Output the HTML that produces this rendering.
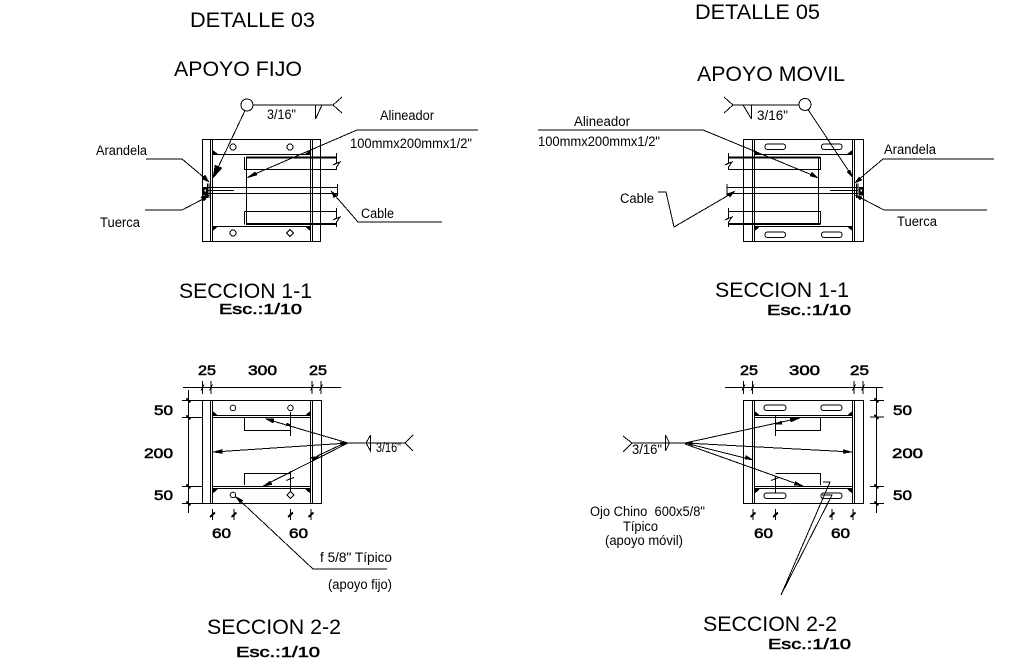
<!DOCTYPE html>
<html lang="es">
<head>
<meta charset="utf-8">
<title>Detalle 03 y Detalle 05</title>
<style>
html,body{margin:0;padding:0;background:#fff;width:1009px;height:666px;overflow:hidden}
svg{display:block}
text{font-family:"Liberation Sans",sans-serif;fill:#000;stroke:none}
.t{font-size:21.5px}
.l{font-size:13.5px}
.d{font-size:14px;stroke:#000;stroke-width:.55px}
.e{font-size:14.5px;stroke:#000;stroke-width:.55px}
.s{fill:none;stroke:#000;stroke-width:1}
.m{fill:none;stroke:#000;stroke-width:1}
.h{fill:none;stroke:#000;stroke-width:2}
.f{fill:#000;stroke:#000;stroke-width:.5}
.g{shape-rendering:crispEdges}
</style>
</head>
<body>
<svg width="1009" height="666" viewBox="0 0 1009 666" xmlns="http://www.w3.org/2000/svg">
<rect width="1009" height="666" fill="#fff"/>

<!-- titles -->
<text class="t" x="190" y="27" textLength="125" lengthAdjust="spacingAndGlyphs">DETALLE 03</text>
<text class="t" x="174" y="76" textLength="128" lengthAdjust="spacingAndGlyphs">APOYO FIJO</text>
<text class="t" x="695" y="19" textLength="125" lengthAdjust="spacingAndGlyphs">DETALLE 05</text>
<text class="t" x="697" y="81" textLength="148" lengthAdjust="spacingAndGlyphs">APOYO MOVIL</text>
<text class="t" x="179" y="298" textLength="133" lengthAdjust="spacingAndGlyphs">SECCION 1-1</text>
<text class="e" x="219" y="314" textLength="83" lengthAdjust="spacingAndGlyphs">Esc.:1/10</text>
<text class="t" x="715" y="297" textLength="134" lengthAdjust="spacingAndGlyphs">SECCION 1-1</text>
<text class="e" x="767" y="315" textLength="84" lengthAdjust="spacingAndGlyphs">Esc.:1/10</text>
<text class="t" x="207" y="634" textLength="134" lengthAdjust="spacingAndGlyphs">SECCION 2-2</text>
<text class="e" x="236" y="657" textLength="84" lengthAdjust="spacingAndGlyphs">Esc.:1/10</text>
<text class="t" x="703" y="631" textLength="134" lengthAdjust="spacingAndGlyphs">SECCION 2-2</text>
<text class="e" x="768" y="649" textLength="83" lengthAdjust="spacingAndGlyphs">Esc.:1/10</text>

<!-- ============ LEFT SECTION 1-1 ============ -->
<g class="g">
<rect class="m" x="202.500" y="139.500" width="118" height="102"/>
<path class="s" d="M210.500 139.500V241.500M212.500 139.500V241.500M310.500 139.500V241.500M312.500 139.500V241.500"/>
<path class="s" d="M212.500 154.500H310.500M212.500 226.500H310.500"/>
<path class="h" d="M246 157.500H337M246 224H337"/>
<path class="s" d="M244.500 157V169.500H337M244.500 211.500V224.500M244.500 211.500H337M246.500 157V224"/>
<path class="s" d="M208 187.500H338M208 193.500H338M208 190.500H234M337.500 184V196"/>
<path class="s" d="M336.500 153V163L333 165 340 162 336.500 167V170M336.500 208V218L333 220 340 217 336.500 222V227"/>
<circle class="s" cx="233" cy="147" r="3"/><circle class="s" cx="290" cy="147" r="3"/>
<circle class="s" cx="233" cy="233" r="3"/><path class="s" d="M290 229.500L293.500 233 290 236.500 286.500 233Z"/>
<path class="f" d="M213 150.500V154H217.500ZM310 150.500V154H305.500ZM213 230.500V226.500H217.500ZM310 230.500V226.500H305.500Z"/>
<rect class="f" x="203" y="187" width="4" height="8"/>
<rect x="204.500" y="189.500" width="1.500" height="2" fill="#fff"/>
<path class="s" d="M207.500 183.500V198M209 183.500V198"/>
<!-- weld -->
<circle class="s" cx="247" cy="105" r="6"/>
<path class="s" d="M253 105H333L342 97M333 105L342 113M315.500 119V105M315.500 119L322 105"/>
<path class="s" d="M245 110.500L214 176"/>
<path class="f" d="M213 178L215 165 222 168Z"/>
<!-- leaders -->
<path class="s" d="M478 130H357L248 177"/>
<path class="f" d="M247 178L255 172 257 175Z"/>
<path class="s" d="M146 159H182L207 180"/>
<path class="f" d="M209 182L202 179 205 175Z"/>
<path class="s" d="M145 210H182L207 197"/>
<path class="f" d="M209 195L204 201 201 197Z"/>
<path class="s" d="M442 222H358L332 192"/>
<path class="f" d="M331 191L337 195 334 198Z"/>
</g>
<text class="l" x="267" y="119" textLength="29" lengthAdjust="spacingAndGlyphs">3/16"</text>
<text class="l" x="380" y="120" textLength="54" lengthAdjust="spacingAndGlyphs">Alineador</text>
<text class="l" x="350" y="148" textLength="122" lengthAdjust="spacingAndGlyphs">100mmx200mmx1/2"</text>
<text class="l" x="96" y="155" textLength="51" lengthAdjust="spacingAndGlyphs">Arandela</text>
<text class="l" x="100" y="227" textLength="40" lengthAdjust="spacingAndGlyphs">Tuerca</text>
<text class="l" x="361" y="218" textLength="33" lengthAdjust="spacingAndGlyphs">Cable</text>

<!-- ============ RIGHT SECTION 1-1 ============ -->
<g class="g">
<rect class="m" x="743.500" y="139.500" width="120" height="102"/>
<path class="s" d="M752.500 139.500V241.500M754.500 139.500V241.500M852.500 139.500V241.500M854.500 139.500V241.500"/>
<path class="s" d="M754.500 154.500H852.500M754.500 226.500H852.500"/>
<path class="h" d="M728 157.500H820M728 224H820"/>
<path class="s" d="M728 169.500H820.500V157M728 211.500H820.500V224.500M818.500 157V224"/>
<path class="s" d="M727 187.500H858M727 193.500H858M830 190.500H858M727 184V196"/>
<path class="s" d="M728.500 153V163L725 165 732 162 728.500 167V170M728.500 208V218L725 220 732 217 728.500 222V227"/>
<rect class="s" x="765" y="144" width="20.500" height="5.500" rx="2.700"/>
<rect class="s" x="821.500" y="144" width="20.500" height="5.500" rx="2.700"/>
<rect class="s" x="765" y="232" width="20.500" height="5.500" rx="2.700"/>
<rect class="s" x="821.500" y="232" width="20.500" height="5.500" rx="2.700"/>
<path class="f" d="M755 150.500V154H759.500ZM852 150.500V154H847.500ZM755 230.500V226.500H759.500ZM852 230.500V226.500H847.500Z"/>
<rect class="f" x="859" y="187" width="4" height="8"/>
<rect x="860.500" y="189.500" width="1.500" height="2" fill="#fff"/>
<path class="s" d="M856.500 183.500V198M858 183.500V198"/>
<!-- weld -->
<circle class="s" cx="805" cy="104.500" r="6"/>
<path class="s" d="M799 105H733L724 97M733 105L724 113M751.500 119V105M751.500 119L743 105"/>
<path class="s" d="M808 109.500L852 176"/>
<path class="f" d="M853 178L847 172 850 170Z"/>
<!-- leaders -->
<path class="s" d="M538 130H703L817 177"/>
<path class="f" d="M818 178L810 176 812 172Z"/>
<path class="s" d="M994 159H883L857 181"/>
<path class="f" d="M855 183L859 177 862 180Z"/>
<path class="s" d="M987 210H884L857 196"/>
<path class="f" d="M855 195L862 197 860 200Z"/>
<path class="s" d="M658 192H666L674 227 734 192"/>
<path class="f" d="M735 191L730 197 727 194Z"/>
</g>
<text class="l" x="757" y="120" textLength="31" lengthAdjust="spacingAndGlyphs">3/16"</text>
<text class="l" x="574" y="126" textLength="56" lengthAdjust="spacingAndGlyphs">Alineador</text>
<text class="l" x="538" y="146" textLength="122" lengthAdjust="spacingAndGlyphs">100mmx200mmx1/2"</text>
<text class="l" x="884" y="154" textLength="52" lengthAdjust="spacingAndGlyphs">Arandela</text>
<text class="l" x="897" y="226" textLength="40" lengthAdjust="spacingAndGlyphs">Tuerca</text>
<text class="l" x="620" y="203" textLength="34" lengthAdjust="spacingAndGlyphs">Cable</text>

<!-- ============ LEFT SECTION 2-2 ============ -->
<g class="g">
<rect class="m" x="202.500" y="400.500" width="119" height="103"/>
<path class="s" d="M210.500 400.500V503.500M212.500 400.500V503.500M310.500 400.500V503.500M312.500 400.500V503.500"/>
<path class="s" d="M212.500 415.500H310.500M212.500 417.500H310.500M212.500 486.500H310.500M212.500 488.500H310.500"/>
<path class="s" d="M290.500 417.500H244.500V430.500H290.500M290.500 473.500H244.500V485"/>
<path class="s" d="M290.500 412V436M290.500 471V491"/>
<path class="s" d="M286 480.500L294 477.500"/>
<circle class="s" cx="233" cy="408" r="2.800"/><circle class="s" cx="290.500" cy="408" r="2.800"/>
<circle class="s" cx="233" cy="495" r="2.800"/><path class="s" d="M290.500 491.500L294 495 290.500 498.500 287 495Z"/>
<path class="f" d="M213 411.500V415H217ZM310 411.500V415H306ZM213 493V489H217.500ZM310 493V489H305.500Z"/>
<!-- top dim -->
<path class="s" d="M183 387.500H341M202.500 381V394M211 381V394M312 381V394M321 381V394"/>
<path class="m" d="M201 390.500L204 384.500M209.500 390.500L212.500 384.500M310.500 390.500L313.500 384.500M319.500 390.500L322.500 384.500"/>
<!-- left dim -->
<path class="s" d="M188.500 390V513M182 400.500H202M182 417.500H202M182 486.500H202M182 503.500H202"/>
<path class="h" d="M186.500 398.500L190.500 402.500M186.500 415.500L190.500 419.500M186.500 484.500L190.500 488.500M186.500 501.500L190.500 505.500"/>
<!-- bottom dim -->
<path class="s" d="M212.500 509V520M234 509V520M290.500 509V520M311 509V520"/>
<path class="h" d="M210 517L215 512.500M231.500 517L236.500 512.500M288 517L293 512.500M308.500 517L313.500 512.500"/>
<!-- weld -->
<path class="s" d="M348 443H405L413 435M405 443L413 451M370.500 435V451L366 443 370.500 435"/>
<path class="s" d="M348 443L266 419M348 443L214 452M348 443L263 486M345 443L317 456"/>
<path class="f" d="M265 418.500L274 419 273 423ZM213 452L222 449.500V453.500ZM263 486.500L270 481 272 484.500ZM319 456L314 461 311 457.500ZM291 425L287 423 286 426Z"/>
<path class="f" d="M348 443L340 442 341 445.500Z"/>
<!-- leader -->
<path class="s" d="M235 496L313 569H387"/>
<path class="f" d="M235.500 496.500L243 500.500 240 503Z"/>
</g>
<text class="d" x="198" y="375" textLength="18" lengthAdjust="spacingAndGlyphs">25</text>
<text class="d" x="248" y="375" textLength="29" lengthAdjust="spacingAndGlyphs">300</text>
<text class="d" x="309" y="375" textLength="18" lengthAdjust="spacingAndGlyphs">25</text>
<text class="d" x="154" y="415" textLength="19" lengthAdjust="spacingAndGlyphs">50</text>
<text class="d" x="144" y="458" textLength="29" lengthAdjust="spacingAndGlyphs">200</text>
<text class="d" x="154" y="500" textLength="19" lengthAdjust="spacingAndGlyphs">50</text>
<text class="d" x="212" y="538" textLength="19" lengthAdjust="spacingAndGlyphs">60</text>
<text class="d" x="289" y="538" textLength="19" lengthAdjust="spacingAndGlyphs">60</text>
<text class="l" x="376" y="452" textLength="25" lengthAdjust="spacingAndGlyphs">3/16"</text>
<text class="l" x="320" y="562" textLength="72" lengthAdjust="spacingAndGlyphs">f 5/8" Típico</text>
<text class="l" x="328" y="589" textLength="64" lengthAdjust="spacingAndGlyphs">(apoyo fijo)</text>

<!-- ============ RIGHT SECTION 2-2 ============ -->
<g class="g">
<rect class="m" x="743.500" y="400.500" width="120" height="103"/>
<path class="s" d="M752.500 400.500V503.500M754.500 400.500V503.500M852.500 400.500V503.500M854.500 400.500V503.500"/>
<path class="s" d="M754.500 415.500H852.500M754.500 417.500H852.500M754.500 486.500H852.500M754.500 488.500H852.500"/>
<path class="s" d="M775.500 417.500H820.500V430.500H775.500M775.500 473.500H820.500V485"/>
<path class="s" d="M775.500 415V436M775.500 476V493"/>
<path class="s" d="M771 480.500L779 477.500"/>
<rect class="s" x="764" y="405" width="22" height="5.500" rx="2.700"/>
<rect class="s" x="821" y="405" width="21" height="5.500" rx="2.700"/>
<rect class="s" x="764" y="493" width="22" height="5.500" rx="2.700"/>
<rect class="s" x="821" y="493" width="21" height="5.500" rx="2.700"/>
<path class="f" d="M755 411.500V415H759ZM852 411.500V415H848ZM755 493V489H759.500ZM852 493V489H847.500Z"/>
<!-- top dim -->
<path class="s" d="M725 387.500H883M743.500 381V394M752.500 381V394M854 381V394M863 381V394"/>
<path class="m" d="M742 390.500L745 384.500M751 390.500L754 384.500M852.500 390.500L855.500 384.500M861.500 390.500L864.500 384.500"/>
<!-- right dim -->
<path class="s" d="M876.500 388V513M870 400.500H884M870 417H884M870 486.500H884M870 503.500H884"/>
<path class="h" d="M874.500 398.500L878.500 402.500M874.500 415L878.500 419M874.500 484.500L878.500 488.500M874.500 501.500L878.500 505.500"/>
<!-- bottom dim -->
<path class="s" d="M753 509V520M775.500 509V520M832 509V520M853 509V520"/>
<path class="h" d="M750.500 517L755.500 512.500M773 517L778 512.500M829.500 517L834.500 512.500M850.500 517L855.500 512.500"/>
<!-- weld -->
<path class="s" d="M623 436L632 443 623 452M632 443H685M665.500 435V451L669.500 443 665.500 435"/>
<path class="s" d="M685 443L800 418M685 443L852 452M685 443L753 460M685 444L803 486"/>
<path class="f" d="M800 418L791 422 790 418.500ZM852 452L843 453.500V449.500ZM753 460L745 459 746 455.500ZM803 486L794 485 795.500 481.500Z"/>
<path class="f" d="M685 443L692 442 692 445.500ZM776 424L781 421 782 424Z"/>
<!-- slot leader -->
<path class="s" d="M823 482H830L781 595 832 495H822"/>
</g>
<text class="d" x="740" y="375" textLength="18" lengthAdjust="spacingAndGlyphs">25</text>
<text class="d" x="789" y="375" textLength="31" lengthAdjust="spacingAndGlyphs">300</text>
<text class="d" x="850" y="375" textLength="19" lengthAdjust="spacingAndGlyphs">25</text>
<text class="d" x="893" y="415" textLength="19" lengthAdjust="spacingAndGlyphs">50</text>
<text class="d" x="892" y="458" textLength="31" lengthAdjust="spacingAndGlyphs">200</text>
<text class="d" x="893" y="500" textLength="19" lengthAdjust="spacingAndGlyphs">50</text>
<text class="d" x="754" y="538" textLength="19" lengthAdjust="spacingAndGlyphs">60</text>
<text class="d" x="831" y="538" textLength="19" lengthAdjust="spacingAndGlyphs">60</text>
<text class="l" x="632" y="454" textLength="30" lengthAdjust="spacingAndGlyphs">3/16"</text>
<text class="l" x="590" y="516" textLength="115" lengthAdjust="spacingAndGlyphs" xml:space="preserve">Ojo Chino  600x5/8"</text>
<text class="l" x="623" y="531" textLength="35" lengthAdjust="spacingAndGlyphs">Típico</text>
<text class="l" x="605" y="545" textLength="78" lengthAdjust="spacingAndGlyphs">(apoyo móvil)</text>
</svg>
</body>
</html>
